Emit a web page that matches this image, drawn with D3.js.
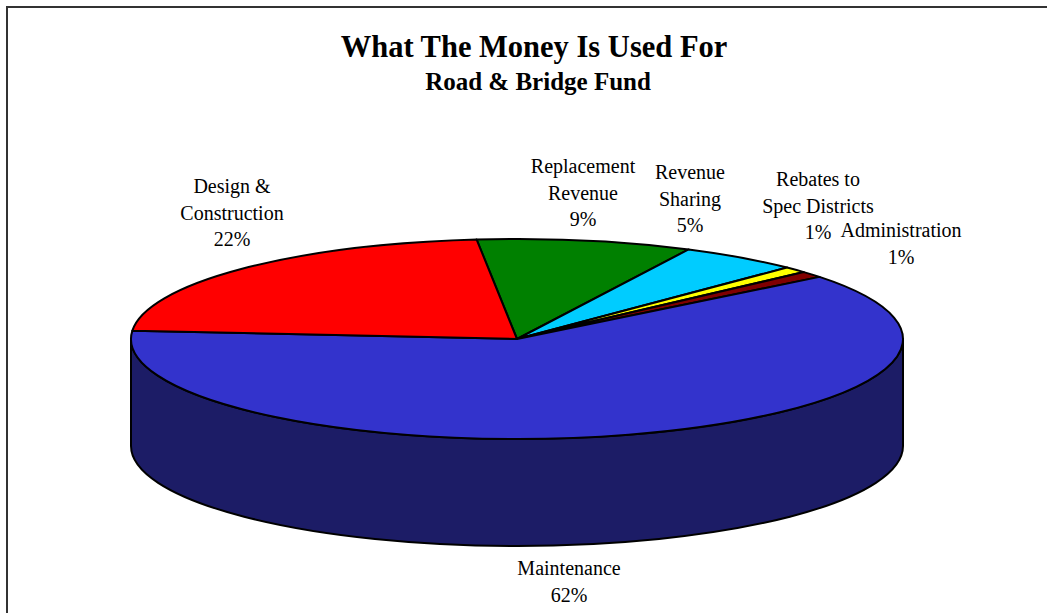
<!DOCTYPE html>
<html>
<head>
<meta charset="utf-8">
<script src="https://cdn.jsdelivr.net/npm/d3@7"></script>
<style>
  html, body { margin: 0; padding: 0; background: #fff; }
  svg { display: block; }
  text { font-family: "Liberation Serif", "Times New Roman", serif; fill: #000; }
</style>
</head>
<body>
<svg id="chart" width="1047" height="613"></svg>
<script>
// Budget shares, in the order the slices run clockwise from 12 o'clock
const categories = ["Replacement Revenue", "Revenue Sharing", "Rebates to Spec Districts",
                    "Administration", "Maintenance", "Design & Construction"];
const shares = [9, 5, 1, 1, 62, 22];
const sliceColors = ["#008000", "#00CCFF", "#FFFF00", "#800000", "#3333CC", "#FF0000"];
const sideColors  = ["#004000", "#006680", "#808000", "#400000", "#1C1C66", "#800000"];

// Label lines for each slice (the percentage is added from the data)
const labelLines = [["Replacement", "Revenue"], ["Revenue", "Sharing"], ["Rebates to", "Spec Districts"],
                    ["Administration"], ["Maintenance"], ["Design &", "Construction"]];

const svg = d3.select("#chart");
const W = 1047, H = 613;

// chart frame
svg.append("rect").attr("x", 7).attr("y", 7).attr("width", W + 20).attr("height", H + 20)
  .attr("fill", "none").attr("stroke", "#333").attr("stroke-width", 2);

// titles
svg.append("text").attr("x", 534).attr("y", 57).attr("text-anchor", "middle")
  .style("font-weight", "bold").style("font-size", "30.5px").text("What The Money Is Used For");
svg.append("text").attr("x", 538).attr("y", 90).attr("text-anchor", "middle")
  .style("font-weight", "bold").style("font-size", "25px").text("Road & Bridge Fund");

// pie geometry: elliptical top face plus a cylindrical rim
const cx = 517, cy = 339, rx = 386, ry = 100, depth = 107;
const firstSliceAngle = -6 * Math.PI / 180;

const pie = d3.pie().sort(null).value(d => d)
  .startAngle(firstSliceAngle).endAngle(firstSliceAngle + 2 * Math.PI);
const arcs = pie(shares);

// angle measured clockwise from 12 o'clock
const pt = (a, dy = 0) => [cx + rx * Math.sin(a), cy - ry * Math.cos(a) + dy];

function topPath(s, e) {
  const p0 = pt(s), p1 = pt(e);
  const large = (e - s) > Math.PI ? 1 : 0;
  return `M${cx},${cy}L${p0[0]},${p0[1]}A${rx},${ry} 0 ${large} 1 ${p1[0]},${p1[1]}Z`;
}

function sidePath(s, e) {
  const a = pt(s), b = pt(e), bd = pt(e, depth), ad = pt(s, depth);
  return `M${a[0]},${a[1]}A${rx},${ry} 0 0 1 ${b[0]},${b[1]}` +
         `L${bd[0]},${bd[1]}A${rx},${ry} 0 0 0 ${ad[0]},${ad[1]}Z`;
}

// visible rim: the front half of the ellipse
const frontLo = Math.PI / 2, frontHi = 3 * Math.PI / 2;
const gSide = svg.append("g");
arcs.forEach((d, i) => {
  const s = Math.max(d.startAngle, frontLo), e = Math.min(d.endAngle, frontHi);
  if (e > s) {
    gSide.append("path").attr("d", sidePath(s, e))
      .attr("fill", sideColors[i]).attr("stroke", "#000")
      .attr("stroke-width", 2).attr("stroke-linejoin", "round");
  }
});

const gTop = svg.append("g");
arcs.forEach((d, i) => {
  gTop.append("path").attr("d", topPath(d.startAngle, d.endAngle))
    .attr("fill", sliceColors[i]).attr("stroke", "#000")
    .attr("stroke-width", 2).attr("stroke-linejoin", "round");
});

// data labels: anchor point (centre of first line's baseline)
const labelAnchors = [[583, 173], [690, 179], [818, 186], [901, 237], [569, 575], [232, 193]];
const lineGap = 26.5;
const gLab = svg.append("g").style("font-size", "20px").attr("text-anchor", "middle");
categories.forEach((c, i) => {
  const lines = labelLines[i].concat([d3.format("d")(shares[i]) + "%"]);
  const t = gLab.append("text");
  lines.forEach((ln, k) => {
    t.append("tspan").attr("x", labelAnchors[i][0]).attr("y", labelAnchors[i][1] + k * lineGap).text(ln);
  });
});
</script>
</body>
</html>
